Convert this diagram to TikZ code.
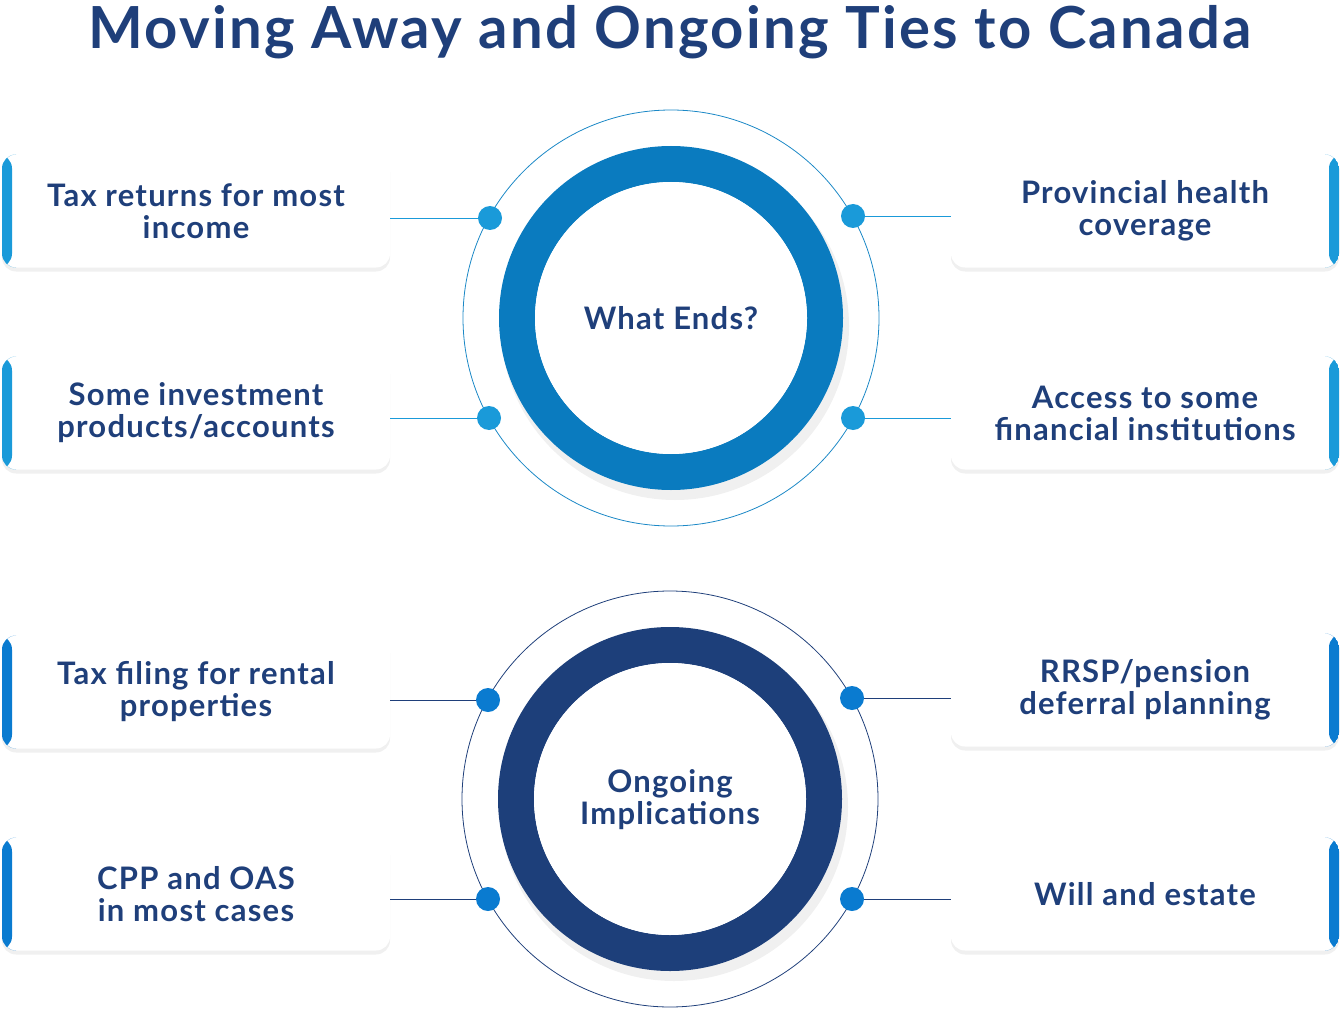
\documentclass[tikz,border=0pt]{standalone}
\usepackage{fontspec}
\setmainfont{Lato}[LetterSpace=4]
\usetikzlibrary{shadows,calc}
\definecolor{navy}{HTML}{1F3F7A}
\definecolor{tblue}{HTML}{0A7BBF}
\definecolor{tdot}{HTML}{1A9AD9}
\definecolor{bdot}{HTML}{0A7BD0}
\definecolor{bring}{HTML}{1D3F7A}
\begin{document}
\begin{tikzpicture}[x=1pt,y=-1pt,
 box/.style={draw=none,fill=white,rounded corners=14pt,minimum width=388pt,minimum height=113pt,
   drop shadow={shadow xshift=0pt,shadow yshift=-4pt,opacity=0.12},align=center,text=navy,
   font=\fontsize{31}{32}\selectfont\bfseries},
 lstripe/.style={path picture={\fill[#1] (path picture bounding box.south west) rectangle ([xshift=10pt]path picture bounding box.north west);}},
 rstripe/.style={path picture={\fill[#1] (path picture bounding box.south east) rectangle ([xshift=-10pt]path picture bounding box.north east);}},
 dot/.style={circle,fill=#1,inner sep=0pt,minimum size=24pt},
 conn/.style={draw=#1,line width=0.8pt}]
\useasboundingbox (0,0) rectangle (1341,1011);
\node[text=navy,font=\fontsize{58}{60}\selectfont\bfseries] (title) at (670,32) {Moving Away and Ongoing Ties to Canada};
% top
\draw[tdot!80!navy,line width=0.8pt] (671,318) circle (208);
\fill[black,opacity=0.06] (675,326) circle (174);
\fill[tblue,even odd rule] (671,318) circle (172) (671,318) circle (136);
\fill[white] (671,318) circle (136);
\node[text=navy,font=\fontsize{31}{32}\selectfont\bfseries] (c1) at (671,318) {What Ends?};
\node[box,lstripe=tdot] (b1) at (196,211) {Tax returns for most\\income};
\node[box,lstripe=tdot] (b2) at (196,413) {Some investment\\products/accounts};
\node[box,rstripe=tdot] (b3) at (1145,211) {Provincial health\\coverage};
\node[box,rstripe=tdot] (b4) at (1145,413) {Access to some\\financial institutions};
\node[dot=tdot] (d1) at (490,218) {};
\node[dot=tdot] (d2) at (489,418) {};
\node[dot=tdot] (d3) at (853,216) {};
\node[dot=tdot] (d4) at (853,418) {};
\draw[conn=tdot] (b1.east|-d1) -- (d1);
\draw[conn=tdot] (b2.east|-d2) -- (d2);
\draw[conn=tdot] (b3.west|-d3) -- (d3);
\draw[conn=tdot] (b4.west|-d4) -- (d4);
% bottom
\draw[navy,line width=0.8pt] (670,799) circle (208);
\fill[black,opacity=0.06] (674,807) circle (174);
\fill[bring,even odd rule] (670,799) circle (172) (670,799) circle (136);
\fill[white] (670,799) circle (136);
\node[text=navy,align=center,font=\fontsize{31}{32}\selectfont\bfseries] (c2) at (670,800) {Ongoing\\Implications};
\node[box,lstripe=bdot] (b5) at (196,692) {Tax filing for rental\\properties};
\node[box,lstripe=bdot] (b6) at (196,894) {CPP and OAS\\in most cases};
\node[box,rstripe=bdot] (b7) at (1145,690) {RRSP/pension\\deferral planning};
\node[box,rstripe=bdot] (b8) at (1145,894) {Will and estate};
\node[dot=bdot] (d5) at (488,700) {};
\node[dot=bdot] (d6) at (488,899) {};
\node[dot=bdot] (d7) at (852,698) {};
\node[dot=bdot] (d8) at (852,899) {};
\draw[conn=navy] (b5.east|-d5) -- (d5);
\draw[conn=navy] (b6.east|-d6) -- (d6);
\draw[conn=navy] (b7.west|-d7) -- (d7);
\draw[conn=navy] (b8.west|-d8) -- (d8);
\end{tikzpicture}
\end{document}
